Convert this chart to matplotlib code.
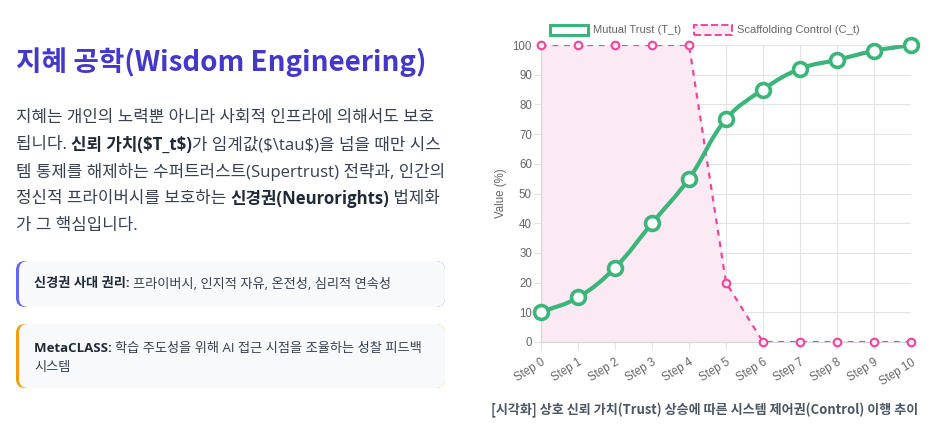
import numpy as np
import matplotlib
matplotlib.use('Agg')
import matplotlib.pyplot as plt
from matplotlib.patches import FancyBboxPatch, Patch, PathPatch
from matplotlib.path import Path
from matplotlib.transforms import IdentityTransform

plt.rcParams['font.family'] = ['Noto Sans CJK KR', 'DejaVu Sans']
KR_FONT = ['Open Sans', 'Noto Sans CJK KR']

W, H = 940, 436

# 차트 데이터
steps = ['Step %d' % i for i in range(11)]
trust = [10, 15, 25, 40, 55, 75, 85, 92, 95, 98, 100]
control = [100, 100, 100, 100, 100, 20, 0, 0, 0, 0, 0]
yticks = list(range(0, 101, 10))
series_names = ['Mutual Trust (T_t)', 'Scaffolding Control (C_t)']

# 왼쪽 텍스트
title = '지혜 공학(Wisdom Engineering)'
body_lines = [
    [('지혜는 개인의 노력뿐 아니라 사회적 인프라에 의해서도 보호', 'normal')],
    [('됩니다. ', 'normal'), ('신뢰 가치($T_t$)', 'bold'), ('가 임계값($\\tau$)을 넘을 때만 시스', 'normal')],
    [('템 통제를 해제하는 수퍼트러스트(Supertrust) 전략과, 인간의', 'normal')],
    [('정신적 프라이버시를 보호하는 ', 'normal'), ('신경권(Neurorights)', 'bold'), (' 법제화', 'normal')],
    [('가 그 핵심입니다.', 'normal')],
]
card1_lines = [[('신경권 사대 권리: ', 'bold'), ('프라이버시, 인지적 자유, 온전성, 심리적 연속성', 'normal')]]
card2_lines = [[('MetaCLASS: ', 'bold'), ('학습 주도성을 위해 AI 접근 시점을 조율하는 성찰 피드백', 'normal')],
               [('시스템', 'normal')]]
caption = '[시각화] 상호 신뢰 가치(Trust) 상승에 따른 시스템 제어권(Control) 이행 추이'

green = '#3bb57a'
pink = '#ec4899'
pink_fill = '#fbe9f3'
grid_c = '#e4e4e4'
tick_c = '#666666'

fig = plt.figure(figsize=(W / 100, H / 100), dpi=100)
fig.patch.set_facecolor('white')
renderer = fig.canvas.get_renderer()


def fx(x):
    return x / W


def fy(y):
    return 1 - y / H


def draw_runs(x, y, parts, size, color, bold_color):
    for s, w in parts:
        c = bold_color if w == 'bold' else color
        t = fig.text(fx(x), fy(y), s, fontsize=size, fontweight=w, color=c,
                     ha='left', va='center', parse_math=False, family=KR_FONT)
        x = t.get_window_extent(renderer).x1


def card(x0, y0, x1, y1, color):
    for dx, fc in [(0, color), (3, '#f8f9fb')]:
        p = FancyBboxPatch((x0 + dx, H - y1), x1 - x0 - dx, y1 - y0,
                           boxstyle='round,pad=0,rounding_size=9',
                           transform=IdentityTransform(), facecolor=fc,
                           edgecolor='none')
        fig.add_artist(p)


fig.text(fx(16), fy(62), title, fontsize=20, fontweight='bold',
         color='#4338ca', ha='left', va='center')
for i, line in enumerate(body_lines):
    draw_runs(16, 118 + 27 * i, line, 12.1, '#374151', '#1f2937')

card(16, 261, 445, 307, '#6366f1')
card(16, 324, 445, 388, '#f59e0b')
draw_runs(34, 284, card1_lines[0], 9.5, '#374151', '#1f2937')
draw_runs(34, 348, card2_lines[0], 9.5, '#374151', '#1f2937')
draw_runs(34, 367, card2_lines[1], 9.5, '#374151', '#1f2937')

fig.text(fx(705), fy(410), caption, fontsize=9.4, fontweight='bold',
         color='#4b5563', ha='center', va='center')

# 차트
ax = fig.add_axes([541 / W, 1 - 342 / H, 370 / W, 297 / H])
x = np.arange(len(steps))


def spline_path(xs, ys, t=0.4, sx=37.0, sy=2.97):
    px = np.asarray(xs, float) * sx
    py = np.asarray(ys, float) * sy
    n = len(px)
    cp_prev, cp_next = [], []
    for i in range(n):
        a = max(i - 1, 0)
        b = min(i + 1, n - 1)
        d01 = np.hypot(px[i] - px[a], py[i] - py[a])
        d12 = np.hypot(px[b] - px[i], py[b] - py[i])
        tot = d01 + d12
        s01 = d01 / tot if tot else 0
        s12 = d12 / tot if tot else 0
        dx, dy = px[b] - px[a], py[b] - py[a]
        cp_prev.append((px[i] - t * s01 * dx, py[i] - t * s01 * dy))
        cp_next.append((px[i] + t * s12 * dx, py[i] + t * s12 * dy))
    verts = [(px[0], py[0])]
    codes = [Path.MOVETO]
    for i in range(1, n):
        verts += [cp_next[i - 1], cp_prev[i], (px[i], py[i])]
        codes += [Path.CURVE4] * 3
    verts = [(vx / sx, min(vy / sy, 100)) for vx, vy in verts]
    return Path(verts, codes)


ax.fill_between(x, control, 0, color=pink_fill, zorder=1)
ax.plot(x, control, color=pink, lw=1.6, dashes=(2.6, 2.6), zorder=2)
ax.plot(x, control, 'o', ls='none', ms=5.5, mfc=pink_fill, mec=pink,
        mew=1.5, zorder=3, clip_on=False)

ax.add_patch(PathPatch(spline_path(x, trust), fill=False, edgecolor=green,
                       lw=3, zorder=4, capstyle='round'))
ax.plot(x, trust, 'o', ls='none', ms=10, mfc='white', mec=green, mew=2.6,
        zorder=5, clip_on=False)

ax.set_xlim(0, 10)
ax.set_ylim(0, 100)
ax.set_xticks(x)
ax.set_xticklabels(steps, rotation=32, ha='right', va='top',
                   rotation_mode='anchor', fontsize=8.3, color=tick_c,
                   family='Liberation Sans')
ax.set_yticks(yticks)
ax.set_yticklabels([str(v) for v in yticks], fontsize=8.3, color=tick_c,
                   family='Liberation Sans')
ax.tick_params(length=5, color=grid_c, width=0.8, pad=1.5)
ax.tick_params(axis='x', pad=5.5)
ax.grid(True, color=grid_c, lw=0.8)
ax.set_axisbelow(True)
for s in ['top', 'right']:
    ax.spines[s].set_visible(False)
for s in ['left', 'bottom']:
    ax.spines[s].set_color('#d6d6d6')
    ax.spines[s].set_linewidth(0.8)
ax.set_facecolor('white')
ax.set_ylabel('Value (%)', fontsize=8.3, color=tick_c, family='Liberation Sans')
ax.yaxis.set_label_coords(-0.092, 0.5)

handles = [
    Patch(facecolor='white', edgecolor=green, linewidth=2.2, label=series_names[0]),
    Patch(facecolor=pink_fill, edgecolor=pink, linewidth=1.4, linestyle='--',
          label=series_names[1]),
]
leg = fig.legend(handles=handles, loc='center', bbox_to_anchor=(705 / W, 1 - 30 / H),
                 bbox_transform=fig.transFigure, ncol=2, frameon=False,
                 handlelength=3.4, handleheight=1.0, handletextpad=0.45,
                 columnspacing=1.2, borderaxespad=0,
                 prop={'family': 'Liberation Sans', 'size': 8.0})
for t in leg.get_texts():
    t.set_color(tick_c)

fig.savefig('out.png', dpi=100, facecolor='white')
